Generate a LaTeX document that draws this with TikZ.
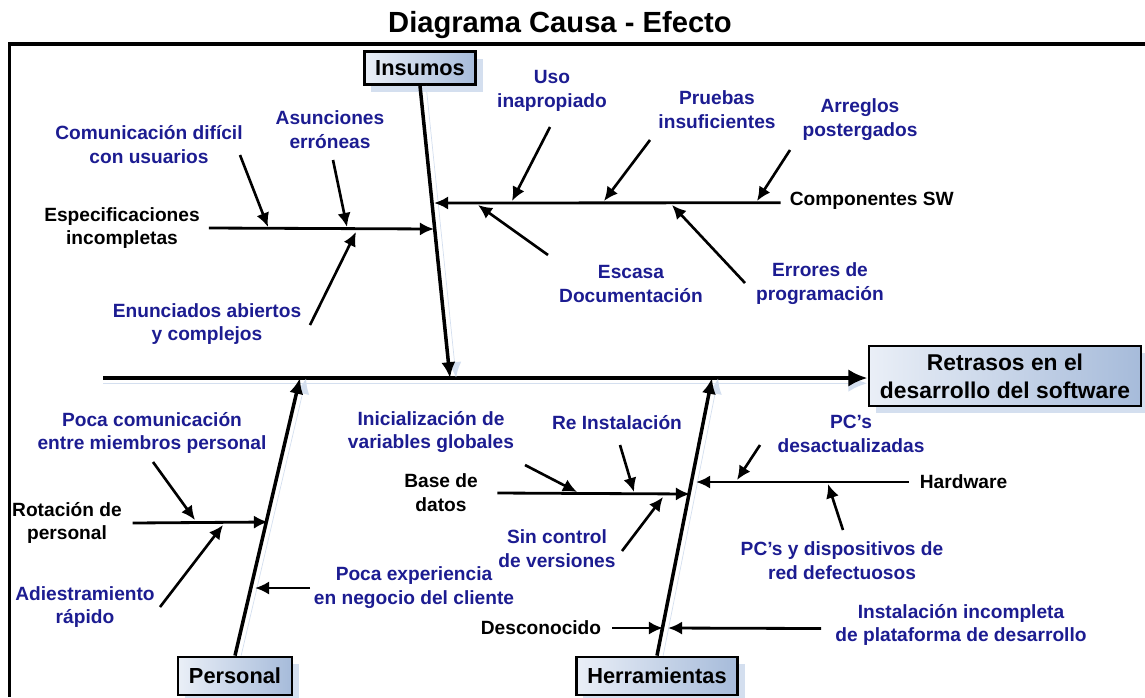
\documentclass[tikz,border=0pt]{standalone}
\usepackage{fontspec}
\setmainfont{Liberation Sans}
\usetikzlibrary{arrows.meta,shadows,positioning}
\definecolor{labelblue}{RGB}{28,28,145}
\definecolor{boxlight}{RGB}{234,239,247}
\definecolor{boxdark}{RGB}{166,187,218}
\definecolor{shadowblue}{RGB}{212,223,239}

\begin{document}
\begin{tikzpicture}[
    x=0.02cm, y=-0.02cm,
    font=\bfseries\fontsize{10.9}{13.6}\selectfont,
    cause/.style={
        text=labelblue,
        align=center,
        inner sep=2pt
    },
    factor/.style={
        text=black,
        align=center,
        inner sep=2pt
    },
    category/.style={
        rectangle,
        draw=black,
        line width=1.6pt,
        left color=boxlight,
        right color=boxdark,
        drop shadow={shadow xshift=4pt, shadow yshift=-4pt, fill=shadowblue, opacity=1},
        font=\bfseries\fontsize{12.4}{14}\selectfont,
        align=center,
        inner xsep=0.22cm,
        minimum height=0.66cm
    },
    spine/.style={
        line width=2.8pt, -{Latex[length=11pt,width=10pt]},
        preaction={draw=shadowblue, transform canvas={yshift=-3pt}}
    },
    bone/.style={
        line width=2pt, -{Latex[length=9pt,width=8pt]},
        preaction={draw=shadowblue, transform canvas={xshift=3.5pt}}
    },
    rib/.style={line width=1.6pt, -{Latex[length=8pt,width=7.5pt]}},
    twig/.style={line width=1.5pt, -{Latex[length=8pt,width=7.5pt]}}
  ]
  \useasboundingbox (0,0) rectangle (1145,697);

  % frame and title
  \draw [line width=1.7pt] (9.5,44) -- (9.5,697);
  \draw [line width=2.8pt] (8,44) -- (1145,44);
  \node [font=\bfseries\fontsize{16.6}{18}\selectfont] (title) at (560,25) {Diagrama Causa - Efecto};

  % effect and categories
  \node [category, font=\bfseries\fontsize{13}{15.9}\selectfont,
         minimum width=5.22cm, minimum height=1.2cm] (effect) at (1005,376)
        {Retrasos en el\\desarrollo del software};
  \node [category] (insumos) at (420,68) {Insumos};
  \node [category, minimum height=0.76cm] (personal) at (235,676) {Personal};
  \node [category, minimum height=0.76cm] (herram) at (657,676) {Herramientas};

  % labels
  \node [factor] (espec) at (122,228) {Especificaciones\\incompletas};
  \node [factor, anchor=west] (comp) at (786,201) {Componentes SW};
  \node [factor] (rota) at (67,523) {Rotación de\\personal};
  \node [factor] (base) at (441,493) {Base de\\datos};
  \node [factor, anchor=west] (hard) at (916,482) {Hardware};
  \node [factor, anchor=east] (desc) at (605,628) {Desconocido};

  \node [cause] (comm) at (149,145) {Comunicación difícil\\con usuarios};
  \node [cause] (asun) at (330,130) {Asunciones\\erróneas};
  \node [cause] (enun) at (207,324) {Enunciados abiertos\\y complejos};
  \node [cause] (uso) at (552,91) {Uso\\inapropiado};
  \node [cause] (prue) at (717,110) {Pruebas\\insuficientes};
  \node [cause] (arre) at (860,120) {Arreglos\\postergados};
  \node [cause] (esca) at (631,284) {Escasa\\Documentación};
  \node [cause] (erro) at (820,284) {Errores de\\programación};
  \node [cause] (pcom) at (152,433) {Poca comunicación\\entre miembros personal};
  \node [cause] (adie) at (85,607) {Adiestramiento\\rápido};
  \node [cause] (pexp) at (414,588) {Poca experiencia\\en negocio del cliente};
  \node [cause] (inic) at (431,432) {Inicialización de\\variables globales};
  \node [cause] (rein) at (617,423) {Re Instalación};
  \node [cause] (sinc) at (557,549) {Sin control\\de versiones};
  \node [cause] (pcsd) at (851,434) {PC’s\\desactualizadas};
  \node [cause] (pcsy) at (842,561) {PC’s y dispositivos de\\red defectuosos};
  \node [cause] (inst) at (961,625) {Instalación incompleta\\de plataforma de desarrollo};

  % points on the bones
  \coordinate (start) at (103,378);
  \coordinate (insHead) at (450,378);
  \coordinate (perHead) at (300,378);
  \coordinate (herHead) at (712,378);
  \coordinate (specHead) at (434,229);
  \coordinate (compHead) at (434,203);
  \coordinate (rotaHead) at (268,522);
  \coordinate (baseHead) at (690,494);
  \coordinate (hardHead) at (696,482);
  \coordinate (descHead) at (663,628);
  \coordinate (instHead) at (668,628);
  \coordinate (pexpHead) at (255,588);

  % main bones
  \draw [spine] (start) -- (start -| effect.west);
  \draw [bone] (insumos.south) -- (insHead);
  \draw [bone] (personal.north) -- (perHead);
  \draw [bone] (herram.north) -- (herHead);

  % ribs
  \draw [rib] ([xshift=3pt]espec.east) -- (specHead);
  \draw [rib] ([xshift=-3pt,yshift=-1pt]comp.west) -- (compHead);
  \draw [rib] ([xshift=4pt]rota.east) -- (rotaHead);
  \draw [rib] ([xshift=9pt]base.east) -- (baseHead);
  \draw [rib] ([xshift=-4pt]hard.west) -- (hardHead);
  \draw [rib] ([xshift=4pt]desc.east) -- (descHead);
  \draw [rib] ([xshift=-6pt,yshift=-2pt]inst.west) -- (instHead);
  \draw [twig] (pexp.west) -- (pexpHead);

  % twigs
  \coordinate (commT) at (240,155); \coordinate (commH) at (268,227);
  \coordinate (asunT) at (333,160); \coordinate (asunH) at (347,227);
  \coordinate (enunT) at (310,325); \coordinate (enunH) at (356,232);
  \coordinate (usoT) at (550,127);  \coordinate (usoH) at (512,201);
  \coordinate (prueT) at (650,140); \coordinate (prueH) at (604,201);
  \coordinate (arreT) at (790,150); \coordinate (arreH) at (757,201);
  \coordinate (escaT) at (548,255); \coordinate (escaH) at (478,205);
  \coordinate (erroT) at (745,283); \coordinate (erroH) at (672,205);
  \coordinate (pcomT) at (153,462); \coordinate (pcomH) at (195,520);
  \coordinate (adieT) at (160,607); \coordinate (adieH) at (223,525);
  \coordinate (inicT) at (525,465); \coordinate (inicH) at (577,492);
  \coordinate (reinT) at (620,445); \coordinate (reinH) at (634,492);
  \coordinate (sincT) at (622,551); \coordinate (sincH) at (663,497);
  \coordinate (pcsdT) at (760,445); \coordinate (pcsdH) at (737,480);
  \coordinate (pcsyT) at (843,530); \coordinate (pcsyH) at (828,484);

  \foreach \c in {comm,asun,enun,uso,prue,arre,esca,erro,pcom,adie,inic,rein,sinc,pcsd,pcsy}
    \draw [twig] (\c T) -- (\c H);

\end{tikzpicture}
\end{document}
